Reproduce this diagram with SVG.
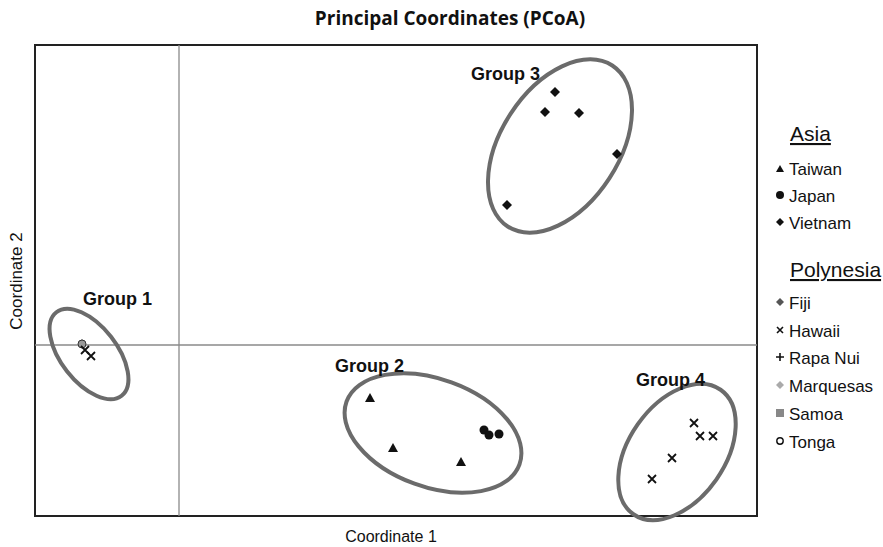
<svg xmlns="http://www.w3.org/2000/svg" width="883" height="547" viewBox="0 0 883 547">
<style>
.t{font-family:"Liberation Sans",Arial,sans-serif;fill:#111}
.g{font-family:"Liberation Sans",Arial,sans-serif;font-weight:bold;font-size:18px;fill:#111}
.lg{font-family:"Liberation Sans",Arial,sans-serif;font-size:17px;fill:#111}
.ell{fill:none;stroke:#6b6b6b;stroke-width:4}
.ax{stroke:#8a8a8a;stroke-width:1.3}
.x{stroke:#111;stroke-width:1.8;fill:none}
</style>
<defs>
<path id="tri" d="M0,-5 L5,4 L-5,4 Z" fill="#111"/>
<path id="dia" d="M0,-5 L5,0 L0,5 L-5,0 Z" fill="#111"/>
<path id="xx" d="M-4,-4 L4,4 M-4,4 L4,-4" class="x"/>
</defs>
<rect width="883" height="547" fill="#fff"/>
<text x="450" y="25" text-anchor="middle" style="font-family:'Open Sans','Liberation Sans',sans-serif;font-weight:bold;font-size:19px;fill:#111">Principal Coordinates (PCoA)</text>
<g id="frame">
<rect x="35" y="45" width="722" height="471" fill="none" stroke="#222" stroke-width="2"/>
<line class="ax" x1="179" y1="45" x2="179" y2="516"/>
<line class="ax" x1="35" y1="345" x2="757" y2="345"/>
</g>
<text class="t" x="391" y="542" text-anchor="middle" font-size="16">Coordinate 1</text>
<text class="t" x="22" y="281" text-anchor="middle" font-size="17" transform="rotate(-90 22 281)">Coordinate 2</text>
<g id="group1">
<ellipse class="ell" cx="89" cy="354" rx="53" ry="28" transform="rotate(52 89 354)"/>
<text class="g" x="83" y="305">Group 1</text>
<path d="M82,339 L86,346 L78,346 Z" fill="#111"/>
<circle cx="82" cy="344" r="4" fill="#999" stroke="#333" stroke-width="1"/>
<use href="#xx" x="85" y="350"/>
<use href="#xx" x="91" y="356"/>
</g>
<g id="group2">
<ellipse class="ell" cx="433" cy="433" rx="92" ry="54" transform="rotate(20 433 433)"/>
<text class="g" x="335" y="372">Group 2</text>
<use href="#tri" x="370" y="398"/>
<use href="#tri" x="393" y="448"/>
<use href="#tri" x="461" y="462"/>
<circle cx="484" cy="430" r="4.5" fill="#111"/>
<circle cx="489" cy="435" r="4.5" fill="#111"/>
<circle cx="499" cy="434" r="4.5" fill="#111"/>
</g>
<g id="group3">
<ellipse class="ell" cx="560" cy="146" rx="96" ry="59" transform="rotate(-57 560 146)"/>
<text class="g" x="471" y="80">Group 3</text>
<use href="#dia" x="555" y="92"/>
<use href="#dia" x="545" y="112"/>
<use href="#dia" x="579" y="113"/>
<use href="#dia" x="617" y="154"/>
<use href="#dia" x="507" y="205"/>
</g>
<g id="group4">
<ellipse class="ell" cx="677" cy="452" rx="76" ry="48" transform="rotate(-55 677 452)"/>
<text class="g" x="636" y="386">Group 4</text>
<use href="#xx" x="694" y="423"/>
<use href="#xx" x="700" y="436"/>
<use href="#xx" x="713" y="436"/>
<use href="#xx" x="672" y="458"/>
<use href="#xx" x="652" y="479"/>
</g>
<g id="legend">
<text class="t" x="790" y="141" font-size="21" text-decoration="underline">Asia</text>
<path d="M780,165 L784,172 L776,172 Z" fill="#111"/>
<text class="lg" x="789" y="175">Taiwan</text>
<circle cx="780" cy="195" r="4" fill="#111"/>
<text class="lg" x="789" y="202">Japan</text>
<path d="M780,218 L784,222 L780,226 L776,222 Z" fill="#111"/>
<text class="lg" x="789" y="229">Vietnam</text>
<text class="t" x="790" y="277" font-size="21" text-decoration="underline">Polynesia</text>
<path d="M780,298 L784,302 L780,306 L776,302 Z" fill="#555"/>
<text class="lg" x="789" y="309">Fiji</text>
<path d="M777,327 L783,333 M777,333 L783,327" stroke="#111" stroke-width="1.6"/>
<text class="lg" x="789" y="337">Hawaii</text>
<path d="M780,353 L780,361 M776,357 L784,357" stroke="#111" stroke-width="1.6"/>
<text class="lg" x="789" y="364">Rapa Nui</text>
<path d="M780,381 L784,385 L780,389 L776,385 Z" fill="#aaa"/>
<text class="lg" x="789" y="392">Marquesas</text>
<rect x="776" y="409" width="8" height="8" fill="#888"/>
<text class="lg" x="789" y="420">Samoa</text>
<circle cx="780" cy="441" r="3.2" fill="#fff" stroke="#111" stroke-width="1.4"/>
<text class="lg" x="789" y="448">Tonga</text>
</g>
</svg>
